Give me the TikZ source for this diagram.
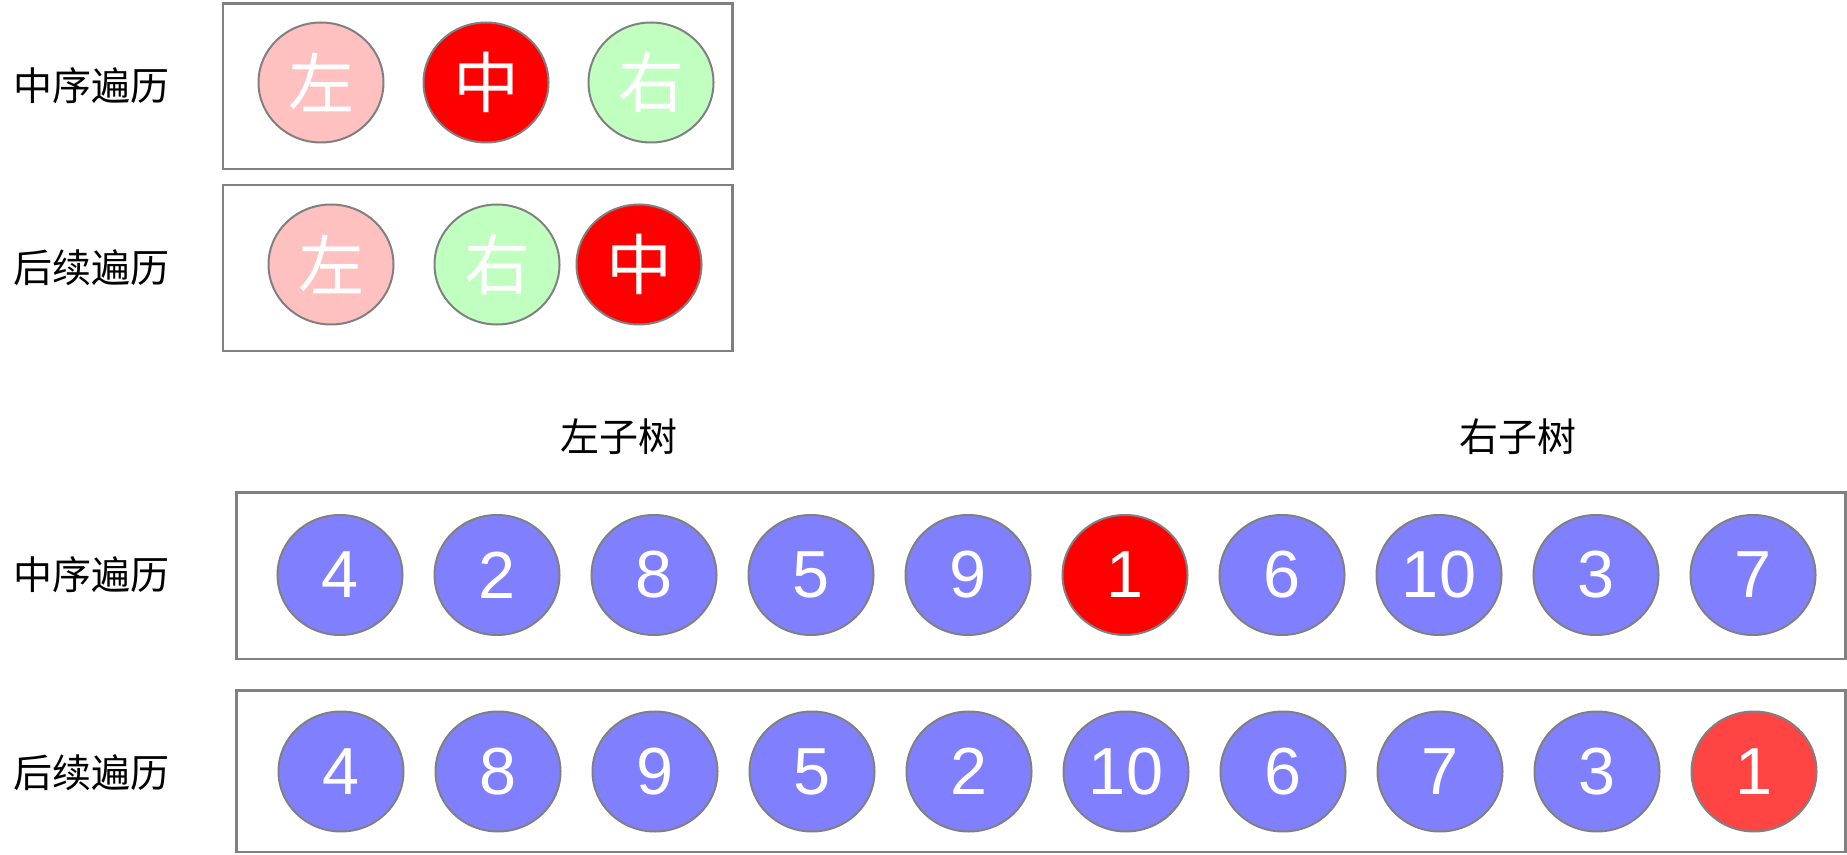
\documentclass[tikz,border=0pt]{standalone}
\usepackage{fontspec}
\setmainfont{Liberation Sans}
\newfontfamily\cjk{Noto Sans CJK SC}
\usetikzlibrary{shapes.geometric,chains,positioning}
\definecolor{leftc}{HTML}{FFC0C0}
\definecolor{midc}{HTML}{FF0000}
\definecolor{rightc}{HTML}{C0FFC0}
\definecolor{numc}{HTML}{8080FF}
\definecolor{rootc}{HTML}{FF4444}
\definecolor{edgec}{HTML}{808080}

\begin{document}
\begin{tikzpicture}[
x=0.5pt, y=-0.5pt,
ball/.style={
	ellipse, draw=edgec, line width=1pt,
	minimum width=62.5pt, minimum height=60pt,
	inner sep=0pt, outer sep=0pt, text=white
},
part/.style={ball, font=\cjk\fontsize{33pt}{33pt}\selectfont},
num/.style={ball, fill=numc, font=\fontsize{33.3pt}{33.3pt}\selectfont},
frame/.style={draw=edgec, line width=1.2pt},
title/.style={font=\cjk\fontsize{19.5pt}{19.5pt}\selectfont, inner sep=0pt},
node distance=16pt
]
\useasboundingbox (0,0) rectangle (1847,855);
% small example
\draw[frame] (223,3.5) rectangle (732.5,169);
\draw[frame] (223,185) rectangle (732.5,351);
\node[title] (t1) at (91,86) {中序遍历};
\node[title] (t2) at (91,268) {后续遍历};
\node[part,fill=leftc] (l1) at (321,82.5) {左};
\node[part,fill=midc] (m1) at (486,82.5) {中};
\node[part,fill=rightc] (r1) at (651,82.5) {右};
\node[part,fill=leftc] (l2) at (331,264.5) {左};
\node[part,fill=rightc] (r2) at (497,264.5) {右};
\node[part,fill=midc] (m2) at (639,264.5) {中};
% the tree
\node[title] (lt) at (619,437) {左子树};
\node[title] (rt) at (1518,437) {右子树};
\draw[frame] (236.5,492.5) rectangle (1845.5,659);
\draw[frame] (236.5,690.5) rectangle (1845.5,852);
\node[title] (t3) at (91,575) {中序遍历};
\node[title] (t4) at (91,773) {后续遍历};
\begin{scope}[start chain=in going right]
\node[num,on chain=in,at={(340,575)}] (i1) {4};
\node[num,on chain=in] (i2) {2};
\node[num,on chain=in] (i3) {8};
\node[num,on chain=in] (i4) {5};
\node[num,on chain=in] (i5) {9};
\node[num,on chain=in,fill=midc] (i6) {1};
\node[num,on chain=in] (i7) {6};
\node[num,on chain=in] (i8) {10};
\node[num,on chain=in] (i9) {3};
\node[num,on chain=in] (i10) {7};
\end{scope}
\begin{scope}[start chain=post going right]
\node[num,on chain=post,at={(341,771.5)}] (p1) {4};
\node[num,on chain=post] (p2) {8};
\node[num,on chain=post] (p3) {9};
\node[num,on chain=post] (p4) {5};
\node[num,on chain=post] (p5) {2};
\node[num,on chain=post] (p6) {10};
\node[num,on chain=post] (p7) {6};
\node[num,on chain=post] (p8) {7};
\node[num,on chain=post] (p9) {3};
\node[num,on chain=post,fill=rootc] (p10) {1};
\end{scope}
\end{tikzpicture}
\end{document}
